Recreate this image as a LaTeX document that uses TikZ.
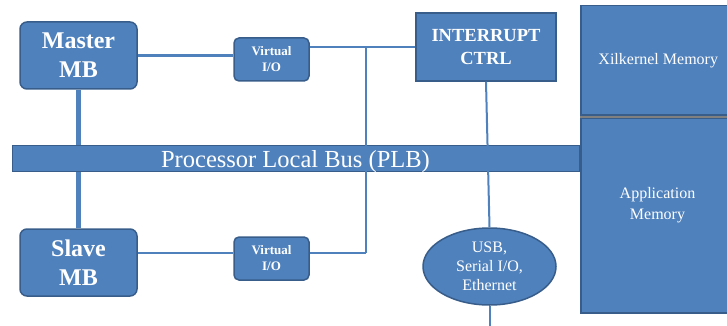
\documentclass[tikz,border=0pt]{standalone}
\usepackage{fontspec}
\setmainfont{Liberation Serif}
\usetikzlibrary{shapes,positioning}
\definecolor{boxblue}{HTML}{4F81BD}
\definecolor{edgeblue}{HTML}{385D8A}

\begin{document}
\begin{tikzpicture}[x=1pt,y=-1pt,
    blk/.style={draw=edgeblue,fill=boxblue,line width=1.5pt,text=white,align=center,inner sep=0pt},
    mb node/.style={blk,rounded corners=7pt,minimum width=117pt,minimum height=67pt,font=\bfseries\fontsize{24}{29}\selectfont},
    vio node/.style={blk,rounded corners=5pt,minimum width=75pt,minimum height=43pt,font=\bfseries\fontsize{13}{16}\selectfont},
    mem node/.style={blk,minimum width=155pt,anchor=north west,font=\fontsize{16}{21}\selectfont},
    wire/.style={draw=boxblue,line width=2.5pt},
    thin wire/.style={draw=boxblue,line width=2pt}]

    \clip (0,0) rectangle (727,326);

    \node[mb node] (master) at (78.5,55.5) {Master\\MB};
    \node[mb node] (slave) at (78.5,262.5) {Slave\\MB};
    \node[vio node] (vioA) at (271.5,59.5) {Virtual\\I/O};
    \node[vio node] (vioB) at (271.5,258.5) {Virtual\\I/O};
    \node[blk,minimum width=140pt,minimum height=68pt,font=\bfseries\fontsize{18.5}{23}\selectfont] (intr) at (486,47) {INTERRUPT\\CTRL};
    \node[blk,line width=1pt,minimum width=567pt,minimum height=26pt,text height=18pt,text depth=1pt,font=\fontsize{24.5}{28}\selectfont] (bus) at (295.5,158.5) {Processor Local Bus (PLB)};
    \node[blk,ellipse,minimum width=133pt,minimum height=77pt,font=\fontsize{16}{19}\selectfont] (io) at (489.5,266.5) {USB,\\Serial I/O,\\Ethernet};
    \node[mem node,minimum height=109pt] (xmem) at (580,5) {Xilkernel Memory};
    \node[mem node,minimum height=195pt] (amem) at (580,117) {};
    \node[text=white,align=center,font=\fontsize{16}{21}\selectfont] (amemtxt) at (657.5,205) {Application\\Memory};
    \path[draw=gray,line width=1.5pt] ([yshift=-1.5pt]xmem.south west) -- ([yshift=-1.5pt]xmem.south east);

    \coordinate (tapTop) at (366,47);
    \coordinate (tapBot) at (366,253);
    \coordinate (ioOut) at (489.5,330);

    % links to the bus
    \draw[wire,line width=5pt] (master.south) -- (master.south |- bus.north);
    \draw[wire,line width=5pt] (slave.north) -- (slave.north |- bus.south);
    % virtual I/O lines
    \draw[wire] (master.east) -- (vioA.west |- master.east);
    \draw[wire] (vioA.east |- tapTop) -- (intr.west);
    \draw[thin wire] (tapTop) -- (tapBot);
    \draw[wire] (slave.east |- tapBot) -- (vioB.west |- tapBot);
    \draw[wire] (vioB.east |- tapBot) -- (tapBot);
    % interrupt line
    \draw[thin wire] (intr.south) -- (io.north);
    \draw[thin wire] (io.south) -- (ioOut);
\end{tikzpicture}
\end{document}
